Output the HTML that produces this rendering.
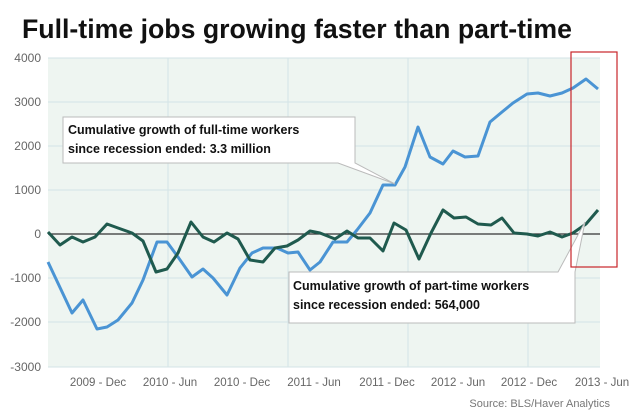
<!DOCTYPE html>
<html><head><meta charset="utf-8"><style>
html,body{margin:0;padding:0;background:#fff;width:640px;height:420px;overflow:hidden}
svg{display:block;font-family:"Liberation Sans",sans-serif}
</style></head><body>
<svg width="640" height="420" viewBox="0 0 640 420">
<text x="22" y="38" font-size="27" font-weight="bold" fill="#111" textLength="550" lengthAdjust="spacingAndGlyphs">Full-time jobs growing faster than part-time</text>
<rect x="48" y="58" width="552" height="309" fill="#eef5f1"/>
<g stroke="#d3e3e6" stroke-width="1">
<line x1="48" y1="58" x2="600" y2="58"/><line x1="48" y1="102" x2="600" y2="102"/><line x1="48" y1="146" x2="600" y2="146"/><line x1="48" y1="190" x2="600" y2="190"/><line x1="48" y1="278" x2="600" y2="278"/><line x1="48" y1="322" x2="600" y2="322"/><line x1="48" y1="367" x2="600" y2="367"/>
<line x1="168" y1="58" x2="168" y2="367"/><line x1="288" y1="58" x2="288" y2="367"/><line x1="408" y1="58" x2="408" y2="367"/><line x1="528" y1="58" x2="528" y2="367"/>
</g>
<line x1="48" y1="234" x2="600" y2="234" stroke="#333" stroke-width="1.3"/>
<g font-size="12" fill="#666" text-anchor="end">
<text x="41" y="62">4000</text><text x="41" y="106">3000</text><text x="41" y="150">2000</text><text x="41" y="194">1000</text><text x="41" y="238">0</text><text x="41" y="282">-1000</text><text x="41" y="326">-2000</text><text x="41" y="371">-3000</text>
</g>
<g font-size="11.5" fill="#666" text-anchor="middle">
<text x="98" y="386">2009 - Dec</text><text x="170" y="386">2010 - Jun</text><text x="242" y="386">2010 - Dec</text><text x="314" y="386">2011 - Jun</text><text x="387" y="386">2011 - Dec</text><text x="458" y="386">2012 - Jun</text><text x="529" y="386">2012 - Dec</text><text x="602" y="386">2013 - Jun</text>
</g>
<text x="610" y="407" font-size="11" fill="#777" text-anchor="end">Source: BLS/Haver Analytics</text>
<polyline fill="none" stroke="#4a94d4" stroke-width="3" stroke-linejoin="round" points="48,262 72,313 83,300 97,329 107,327 118,320 132,303 143,280 157,242 167,242 178,257 192,277 203,269 213,278 227,295 240,268 252,253 263,248 277,248 288,253 298,252 310,270 320,262 333,242 347,242 357,230 370,213 383,185 395,185 405,167 418,127 430,157 443,164 453,151 465,157 478,156 490,122 502,112 513,103 527,94 538,93 550,96 562,93 573,88 586,79 598,89"/>
<polyline fill="none" stroke="#1f5a4e" stroke-width="3" stroke-linejoin="round" points="48,232 60,245 72,237 83,242 95,237 107,224 118,228 132,233 143,241 156,272 167,269 178,253 191,222 203,237 214,242 227,233 238,239 250,260 263,262 275,248 287,246 298,240 310,231 320,233 335,239 347,231 358,238 370,238 383,251 394,223 406,230 419,259 431,233 443,210 454,218 466,217 478,224 491,225 502,218 514,233 527,234 538,236 550,232 562,237 573,233 586,224 598,210"/>
<path d="M63,117 H355 V163 L395,184 L338,163 H63 Z" fill="#fff" stroke="#bbb" stroke-width="1"/>
<g font-size="12.5" font-weight="bold" fill="#111">
<text x="68" y="134">Cumulative growth of full-time workers</text>
<text x="68" y="153">since recession ended: 3.3 million</text>
</g>
<path d="M289,272 H558 L585,222 L575,272 V323 H289 Z" fill="#fff" stroke="#bbb" stroke-width="1"/>
<g font-size="12.5" font-weight="bold" fill="#111">
<text x="293" y="290">Cumulative growth of part-time workers</text>
<text x="293" y="309">since recession ended: 564,000</text>
</g>
<rect x="571" y="52" width="46" height="215" fill="none" stroke="#c8242a" stroke-width="1.2"/>
</svg>
</body></html>
